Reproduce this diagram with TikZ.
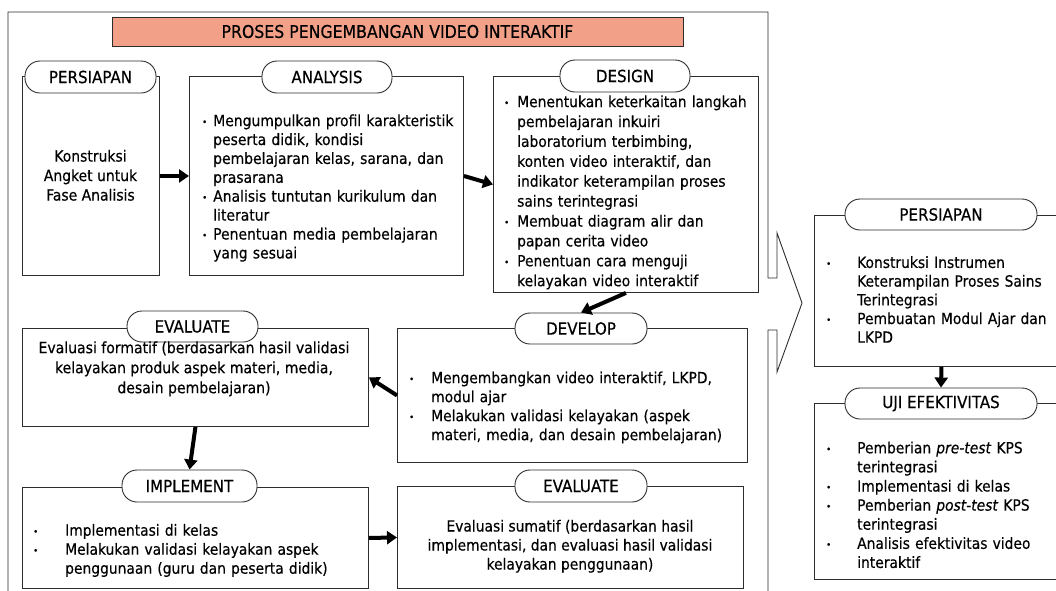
\documentclass[tikz,border=0pt]{standalone}
\usepackage{fontspec}
\setmainfont[FakeBold=0.35,AutoFakeBold=0.35]{DejaVu Sans Condensed}
\usetikzlibrary{arrows.meta}
\definecolor{salmon}{RGB}{242,160,136}
\definecolor{edge}{RGB}{45,45,45}
\newcommand{\smallbul}{\raisebox{0.06em}{\scalebox{0.6}{•}}}
\newcommand{\bl}[2]{\par\hangindent=#1\hangafter=1\noindent\makebox[#1][l]{\strut\smallbul}\begingroup\let\\\newline #2\endgroup\par}
\tikzset{
  box/.style={draw=edge, line width=0.9pt, fill=white, inner sep=0pt, anchor=north west},
  pill/.style={draw=edge, line width=0.9pt, fill=white, rounded corners=15pt, inner sep=0pt, font=\fontsize{16.8}{18}\selectfont},
  txt/.style={inner sep=0pt, align=left, text width=340pt, anchor=north west},
  ctxt/.style={inner sep=0pt, align=center, anchor=north},
  arr/.style={line width=4pt, -{Triangle[length=10pt,width=13pt]}},
}
\begin{document}
\begin{tikzpicture}[x=1pt,y=-1pt]
\useasboundingbox (0,0) rectangle (1056,590);
\fill[white] (0,0) rectangle (1056,590);
% outer frame with arrow
\draw[edge, line width=0.9pt] (8,600) -- (8,12) -- (768,12) -- (768,278) -- (777,278) -- (777,233) -- (802,303) -- (777,372) -- (777,330) -- (768,330) -- (768,600);
% title
\node[draw=edge, line width=0.9pt, fill=salmon, minimum width=571pt, minimum height=29pt, inner sep=0pt, font=\fontsize{17.5}{18}\selectfont] (title) at (397.5,31.5) {PROSES PENGEMBANGAN VIDEO INTERAKTIF};
% boxes
\node[box, minimum width=137pt, minimum height=199pt] (PL) at (22,76) {};
\node[box, minimum width=274pt, minimum height=199pt] (AN) at (189,76) {};
\node[box, minimum width=265pt, minimum height=216pt] (DE) at (493,76) {};
\node[box, minimum width=350pt, minimum height=134pt] (DV) at (397,328) {};
\node[box, minimum width=346pt, minimum height=98pt] (EL) at (22,328) {};
\node[box, minimum width=346pt, minimum height=101pt] (IM) at (22,487) {};
\node[box, minimum width=346pt, minimum height=102pt] (ER) at (397,486) {};
\node[box, minimum width=254pt, minimum height=151pt] (RP) at (814,215) {};
\node[box, minimum width=254pt, minimum height=176pt] (UJ) at (814,403) {};
% pills
\node[pill, minimum width=131pt, minimum height=32pt] (PLp) at (90.5,77) {PERSIAPAN};
\node[pill, minimum width=130pt, minimum height=32pt] (ANp) at (327,77) {ANALYSIS};
\node[pill, minimum width=130pt, minimum height=32pt] (DEp) at (625,76) {DESIGN};
\node[pill, minimum width=132pt, minimum height=31pt] (DVp) at (581,328.5) {DEVELOP};
\node[pill, minimum width=131pt, minimum height=31pt] (ELp) at (192.5,326.5) {EVALUATE};
\node[pill, minimum width=135pt, minimum height=32pt] (IMp) at (189.5,486) {IMPLEMENT};
\node[pill, minimum width=132pt, minimum height=32pt] (ERp) at (581,486) {EVALUATE};
\node[pill, minimum width=192pt, minimum height=31pt] (RPp) at (941,214.5) {PERSIAPAN};
\node[pill, minimum width=192pt, minimum height=31pt] (UJp) at (941,403.5) {UJI EFEKTIVITAS};
% contents
\node[ctxt, font=\fontsize{15.5}{19.5}\selectfont] (PLt) at (90.5,147.7) {\strut Konstruksi\\Angket untuk\\Fase Analisis};
\node[txt, font=\fontsize{15.5}{18.9}\selectfont] (ANt) at (202,107) {%
\bl{11pt}{Mengumpulkan profil karakteristik\\peserta didik, kondisi\\pembelajaran kelas, sarana, dan\\prasarana}%
\bl{11pt}{Analisis tuntutan kurikulum dan\\literatur}%
\bl{11pt}{Penentuan media pembelajaran\\yang sesuai}};
\node[txt, font=\fontsize{15.4}{19.9}\selectfont] (DEt) at (504,87) {%
\bl{13pt}{Menentukan keterkaitan langkah\\pembelajaran inkuiri\\laboratorium terbimbing,\\konten video interaktif, dan\\indikator keterampilan proses\\sains terintegrasi}%
\bl{13pt}{Membuat diagram alir dan\\papan cerita video}%
\bl{13pt}{Penentuan cara menguji\\kelayakan video interaktif}};
\node[txt, font=\fontsize{15.4}{19}\selectfont] (DVt) at (409,364) {%
\bl{22pt}{Mengembangkan video interaktif, LKPD,\\modul ajar}%
\bl{22pt}{Melakukan validasi kelayakan (aspek\\materi, media, dan desain pembelajaran)}};
\node[ctxt, font=\fontsize{15.6}{20}\selectfont] (ELt) at (194,339) {\strut Evaluasi formatif (berdasarkan hasil validasi\\kelayakan produk aspek materi, media,\\desain pembelajaran)};
\node[txt, font=\fontsize{15.4}{19}\selectfont] (IMt) at (33,516.5) {%
\bl{32pt}{Implementasi di kelas}%
\bl{32pt}{Melakukan validasi kelayakan aspek\\penggunaan (guru dan peserta didik)}};
\node[ctxt, font=\fontsize{15.4}{19}\selectfont] (ERt) at (570,518) {\strut Evaluasi sumatif (berdasarkan hasil\\implementasi, dan evaluasi hasil validasi\\kelayakan penggunaan)};
\node[txt, font=\fontsize{15.4}{18.7}\selectfont] (RPt) at (826,249) {%
\bl{31pt}{Konstruksi Instrumen\\Keterampilan Proses Sains\\Terintegrasi}%
\bl{31pt}{Pembuatan Modul Ajar dan\\LKPD}};
\node[txt, font=\fontsize{15.4}{19.1}\selectfont] (UJt) at (826,434) {%
\bl{31pt}{Pemberian \textit{pre-test} KPS\\terintegrasi}%
\bl{31pt}{Implementasi di kelas}%
\bl{31pt}{Pemberian \textit{post-test} KPS\\terintegrasi}%
\bl{31pt}{Analisis efektivitas video\\interaktif}};
% arrows
\draw[arr] (PL.east) -- (AN.west);
\draw[arr] (AN.east) -- (DE.west);
\draw[arr] (DE.south) -- (DVp.north);
\draw[arr] (DV.west) -- (EL.east);
\draw[arr] (EL.south) -- (IMp.north);
\draw[arr] (IM.east) -- (ER.west);
\draw[arr] (RP.south) -- (UJp.north);
\end{tikzpicture}
\end{document}
